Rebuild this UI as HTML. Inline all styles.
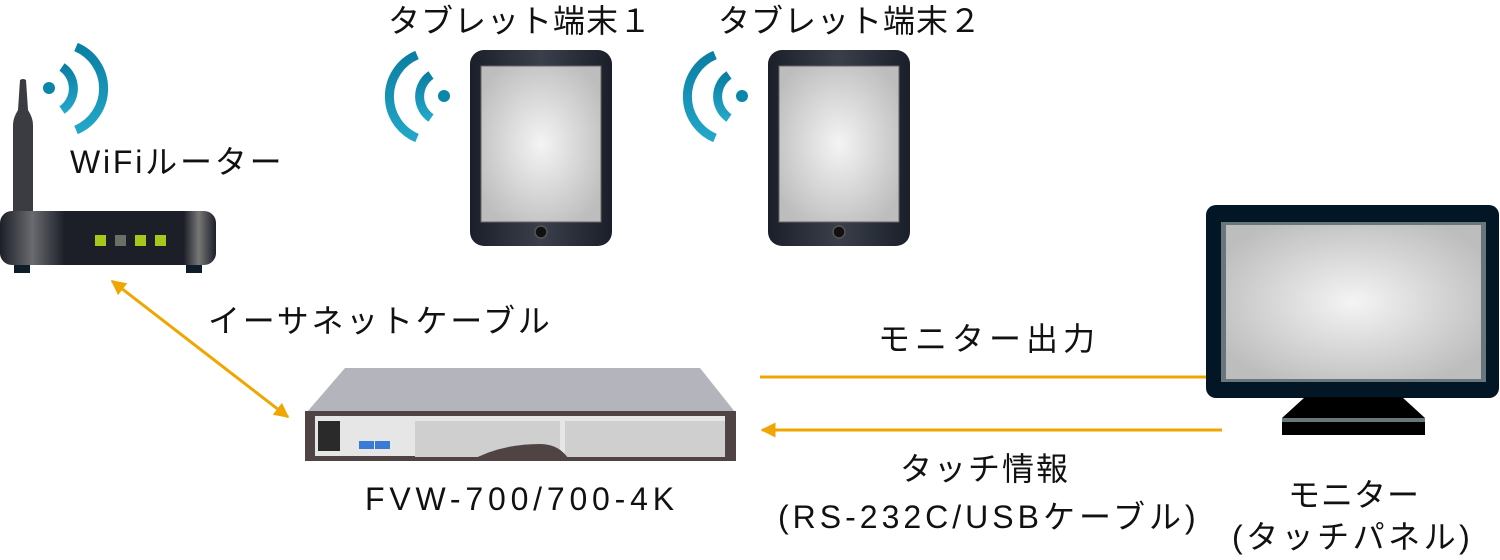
<!DOCTYPE html>
<html><head><meta charset="utf-8"><style>
body{margin:0;width:1500px;height:560px;background:#fff;overflow:hidden;position:relative;font-family:"Liberation Sans","Noto Sans CJK JP",sans-serif;color:#111}
.t{position:absolute;font-size:32px;white-space:nowrap;line-height:1}
</style></head><body>
<svg width="1500" height="560" style="position:absolute;left:0;top:0">
<defs>
<radialGradient id="scr" cx="50%" cy="50%" r="60%"><stop offset="0" stop-color="#f4f4f4"/><stop offset="1" stop-color="#bdbdbd"/></radialGradient>
<linearGradient id="tab" x1="0" x2="1"><stop offset="0" stop-color="#1a1f2a"/><stop offset="0.5" stop-color="#3a3f4a"/><stop offset="1" stop-color="#1a1f2a"/></linearGradient>
<linearGradient id="rt" x1="0" x2="1"><stop offset="0" stop-color="#1c1f28"/><stop offset="0.15" stop-color="#6a6b70"/><stop offset="0.3" stop-color="#1c1f28"/><stop offset="0.85" stop-color="#1c1f28"/><stop offset="0.92" stop-color="#777"/><stop offset="1" stop-color="#1c1f28"/></linearGradient>
<linearGradient id="wf" x1="0" y1="0" x2="0" y2="1"><stop offset="0" stop-color="#0a7fa3"/><stop offset="1" stop-color="#23a6c8"/></linearGradient>
<marker id="ah" viewBox="0 0 10 10" refX="9" refY="5" markerWidth="5" markerHeight="5" orient="auto-start-reverse"><path d="M0,0L10,5L0,10z" fill="#f0a500"/></marker>
</defs>
<g fill="none" stroke="url(#wf)" stroke-width="9">
<circle cx="49" cy="88" r="6" fill="#0a86ab" stroke="none"/>
<path d="M62,67 A26,26 0 0 1 62,110"/>
<path d="M76,47 A45,45 0 0 1 76,130"/>
</g>
<path d="M20,80 Q23,78 26,80 L28,110 Q33,118 33,125 L33,212 L13,212 L13,125 Q13,118 18,110 Z" fill="#3a3c42"/>
<rect x="0" y="211" width="216" height="54" rx="12" fill="url(#rt)"/>
<rect x="14" y="265" width="16" height="8" fill="#0e1d2a"/><rect x="186" y="265" width="16" height="8" fill="#0e1d2a"/>
<rect x="95" y="235" width="11" height="11" fill="#a4c81c"/><rect x="115" y="235" width="11" height="11" fill="#6c6f66"/><rect x="135" y="235" width="11" height="11" fill="#a4c81c"/><rect x="155" y="235" width="11" height="11" fill="#a4c81c"/>
<g id="tb">
<rect x="470" y="50" width="142" height="196" rx="14" fill="url(#tab)"/>
<rect x="481" y="66" width="120" height="156" fill="url(#scr)" stroke="#666" stroke-width="1"/>
<circle cx="541" cy="232" r="6" fill="#111" stroke="#555" stroke-width="1.5"/>
</g>
<use href="#tb" x="298"/>
<g fill="none" stroke="url(#wf)" stroke-width="9">
<circle cx="444" cy="96" r="6" fill="#0a86ab" stroke="none"/>
<path d="M431,75 A26,26 0 0 0 431,118"/>
<path d="M417,55 A45,45 0 0 0 417,138"/>
<circle cx="742" cy="96" r="6" fill="#0a86ab" stroke="none"/>
<path d="M729,75 A26,26 0 0 0 729,118"/>
<path d="M715,55 A45,45 0 0 0 715,138"/>
</g>
<path d="M345,368 L700,368 L735,412 L307,412 Z" fill="#b4b4bc"/>
<rect x="305" y="411" width="431" height="50" fill="#4f4443"/>
<rect x="315" y="416" width="410" height="40" fill="#e6e6e6"/>
<rect x="318" y="421" width="22" height="30" fill="#2a2a2a"/>
<rect x="415" y="421" width="145" height="36" fill="#cfcfcf"/><rect x="565" y="421" width="160" height="36" fill="#cfcfcf"/>
<path d="M470,461 Q500,444 540,444 Q560,444 570,461Z" fill="#4f4443"/>
<rect x="359" y="441" width="15" height="8" fill="#3a7bd5"/><rect x="375" y="441" width="15" height="8" fill="#3a7bd5"/>
<rect x="1206" y="205" width="293" height="193" rx="10" fill="#031625"/>
<rect x="1221" y="222" width="265" height="160" fill="#67777c"/>
<rect x="1226" y="225" width="255" height="154" fill="url(#scr)"/>
<path d="M1305,397 L1402,397 L1425,418 L1282,418Z" fill="#000"/>
<rect x="1282" y="418" width="143" height="4" fill="#67777c"/><rect x="1282" y="422" width="143" height="13" fill="#000"/>
<line x1="112" y1="281" x2="288" y2="417" stroke="#f0a500" stroke-width="3" marker-start="url(#ah)" marker-end="url(#ah)"/>
<line x1="760" y1="377" x2="1206" y2="377" stroke="#f0a500" stroke-width="3"/>
<line x1="762" y1="430" x2="1222" y2="430" stroke="#f0a500" stroke-width="3" marker-start="url(#ah)"/>
</svg>
<div class="t" style="left:388px;top:5px;letter-spacing:1px">タブレット端末１</div>
<div class="t" style="left:718px;top:5px;letter-spacing:1px">タブレット端末２</div>
<div class="t" style="left:70px;top:146px;letter-spacing:2.8px">WiFiルーター</div>
<div class="t" style="left:208px;top:305px;letter-spacing:2.7px">イーサネットケーブル</div>
<div class="t" style="left:878px;top:323px;letter-spacing:5px">モニター出力</div>
<div class="t" style="left:365px;top:483px;letter-spacing:4.8px">FVW-700/700-4K</div>
<div class="t" style="left:900px;top:453px;letter-spacing:2px">タッチ情報</div>
<div class="t" style="left:778px;top:501px;letter-spacing:4px">(RS-232C/USBケーブル)</div>
<div class="t" style="left:1288px;top:479px;letter-spacing:1px">モニター</div>
<div class="t" style="left:1232px;top:521px;letter-spacing:3.5px">(タッチパネル)</div>
</body></html>
